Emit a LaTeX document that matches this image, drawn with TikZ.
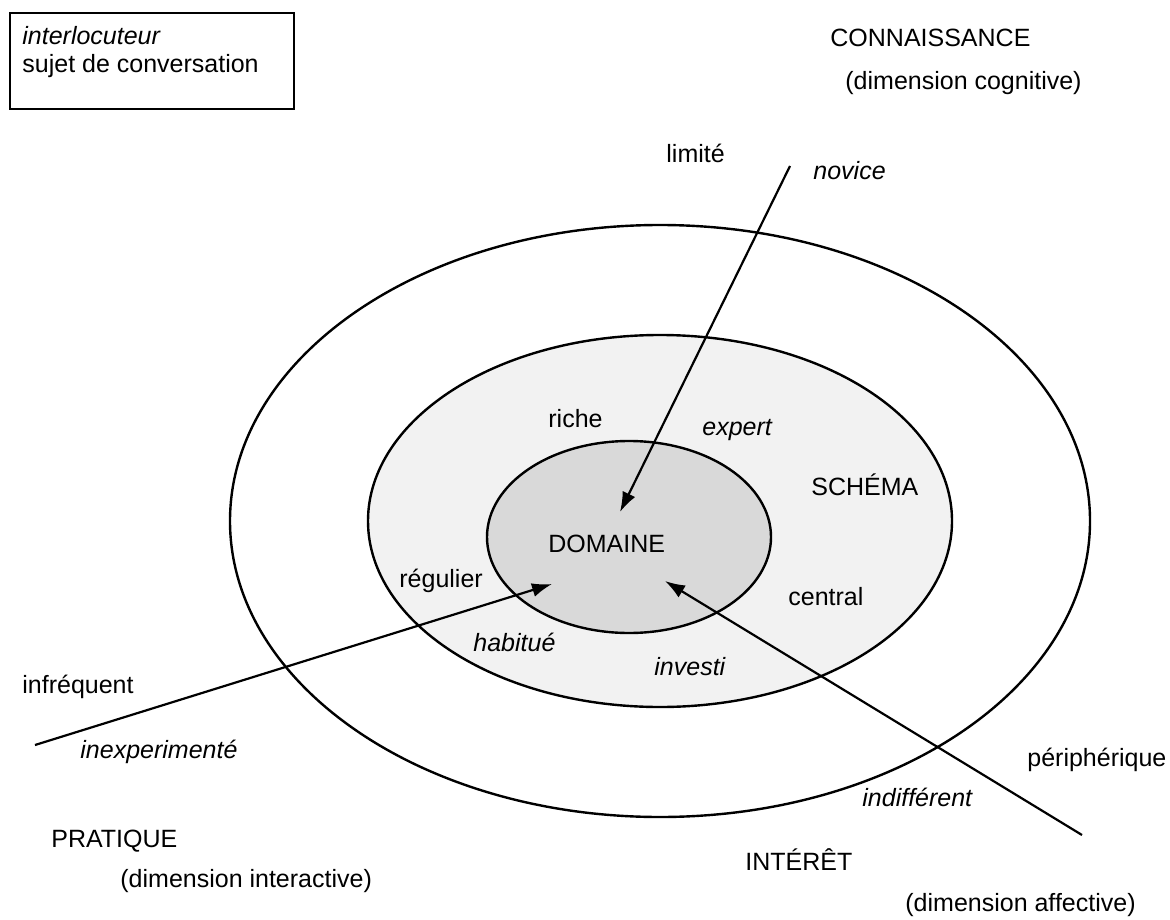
\documentclass[tikz,border=0pt]{standalone}
\usepackage{fontspec}
\setmainfont{Liberation Sans}
\usetikzlibrary{shapes.geometric,arrows.meta}

\begin{document}
\begin{tikzpicture}[x=0.5pt,y=-0.5pt]
\tikzset{zone/.style = {shape=ellipse,draw,line width=1.2pt,inner sep=0pt,outer sep=0pt}}
\tikzset{label/.style = {anchor=base west,inner sep=0pt,font=\fontsize{12.5}{15}\selectfont}}
\tikzset{fleche/.style = {-{Latex[length=10pt,width=7pt]},line width=1.1pt}}
\useasboundingbox (0,0) rectangle (1170,919);
% cercles
\node[zone,minimum width=430pt,minimum height=296pt] (outer) at (660,521) {};
\node[zone,fill=black!5,minimum width=292pt,minimum height=186pt] (schema) at (660,521) {};
\node[zone,fill=black!15,minimum width=142pt,minimum height=96pt] (domaine) at (629,537) {};
% legende
\node[draw,line width=1pt,anchor=north west,minimum width=142pt,minimum height=48pt] (legende) at (9,12) {};
\node[label] (interloc) at (22,45) {\itshape interlocuteur};
\node[label] (sujet) at (22,73) {sujet de conversation};
% dimensions
\node[label] (conn) at (830,47) {CONNAISSANCE};
\node[label] (cogn) at (845,90) {(dimension cognitive)};
\node[label] (prat) at (51,847) {PRATIQUE};
\node[label] (inter) at (120,887) {(dimension interactive)};
\node[label] (inte) at (745,870) {INTÉRÊT};
\node[label] (affe) at (905,911) {(dimension affective)};
% niveaux
\node[label] (limite) at (666,163) {limité};
\node[label] (novice) at (813,180) {\itshape novice};
\node[label] (riche) at (548,427) {riche};
\node[label] (expert) at (702,435) {\itshape expert};
\node[label] (schemalbl) at (811,495) {SCHÉMA};
\node[label] (domlbl) at (548,552) {DOMAINE};
\node[label] (regulier) at (399,587) {régulier};
\node[label] (central) at (788,605) {central};
\node[label] (habitue) at (473,651) {\itshape habitué};
\node[label] (investi) at (654,675) {\itshape investi};
\node[label] (infreq) at (22,693) {infréquent};
\node[label] (inexp) at (80,758) {\itshape inexperimenté};
\node[label] (periph) at (1027,766) {périphérique};
\node[label] (indiff) at (862,806) {\itshape indifférent};
% fleches
\coordinate (c1) at (790,166);
\coordinate (c1b) at (620,512);
\coordinate (p1) at (35,745);
\coordinate (p1b) at (552,584);
\coordinate (a1) at (1082,835);
\coordinate (a1b) at (665,581);
\draw[fleche] (c1) -- (c1b);
\draw[fleche] (p1) -- (p1b);
\draw[fleche] (a1) -- (a1b);
\end{tikzpicture}
\end{document}
